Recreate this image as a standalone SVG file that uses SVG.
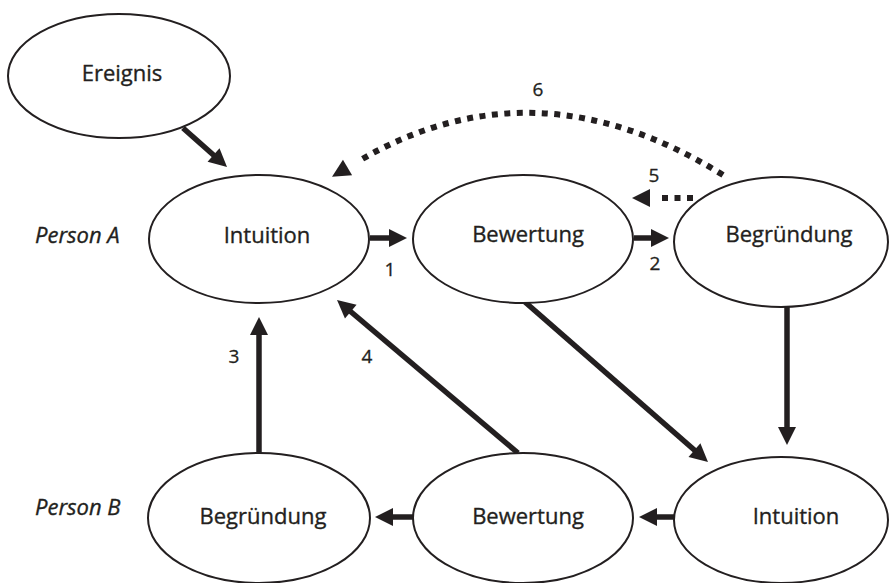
<svg xmlns="http://www.w3.org/2000/svg" width="889" height="583" viewBox="0 0 889 583">
<style>
.node ellipse{fill:#fff;stroke:#231f20;stroke-width:2}
.lbl{font-family:"Open Sans","Liberation Sans",sans-serif;font-size:22px;fill:#231f20;stroke:#231f20;stroke-width:0.35;text-anchor:middle}
.person{font-family:"Open Sans","Liberation Sans",sans-serif;font-size:22px;font-style:italic;fill:#231f20;stroke:#231f20;stroke-width:0.35}
.num{font-family:"Open Sans","Liberation Sans",sans-serif;font-size:19px;fill:#231f20;stroke:#231f20;stroke-width:0.3;text-anchor:middle}
.solid{stroke:#231f20;stroke-width:5.5;fill:none;marker-end:url(#head)}
.dash{stroke:#231f20;stroke-width:6;fill:none;stroke-dasharray:6 6.5;marker-end:url(#headGap)}
</style>
<defs>
<marker id="head" markerUnits="userSpaceOnUse" markerWidth="20" markerHeight="20" refX="1" refY="9" orient="auto" overflow="visible">
<path d="M0,0 L18,9 L0,18 z" fill="#231f20"/>
</marker>
<marker id="headGap" markerUnits="userSpaceOnUse" markerWidth="20" markerHeight="20" refX="-11" refY="9" orient="auto" overflow="visible">
<path d="M0,0 L18,9 L0,18 z" fill="#231f20"/>
</marker>
</defs>
<rect width="889" height="583" fill="#fff"/>
<g id="connectors">
<line class="solid" x1="183" y1="128" x2="214.3" y2="155.7"/>
<line class="solid" x1="370" y1="238" x2="390" y2="238"/>
<line class="solid" x1="634" y1="238" x2="652" y2="238"/>
<line class="dash" x1="693" y1="198" x2="661" y2="198"/>
<path class="dash" d="M 723 175 Q 534 57.5 357 162"/>
<line class="solid" x1="259" y1="453" x2="259" y2="334"/>
<line class="solid" x1="518" y1="453" x2="350" y2="311"/>
<line class="solid" x1="525" y1="302" x2="695.2" y2="450.8"/>
<line class="solid" x1="787" y1="307" x2="787" y2="428"/>
<line class="solid" x1="676" y1="517" x2="656" y2="517"/>
<line class="solid" x1="413" y1="517" x2="392" y2="517"/>
</g>
<g id="ereignis" class="node"><ellipse cx="119" cy="76" rx="111" ry="62"/><text class="lbl" x="122" y="81">Ereignis</text></g>
<g id="intuitionA" class="node"><ellipse cx="259" cy="239" rx="110" ry="64"/><text class="lbl" x="267" y="243">Intuition</text></g>
<g id="bewertungA" class="node"><ellipse cx="523" cy="239" rx="110" ry="64"/><text class="lbl" x="528" y="242">Bewertung</text></g>
<g id="begruendungA" class="node"><ellipse cx="781" cy="242" rx="107" ry="65"/><text class="lbl" x="789" y="242">Begründung</text></g>
<g id="begruendungB" class="node"><ellipse cx="259" cy="518" rx="111" ry="65"/><text class="lbl" x="263" y="524">Begründung</text></g>
<g id="bewertungB" class="node"><ellipse cx="523" cy="518" rx="110" ry="65"/><text class="lbl" x="528" y="524">Bewertung</text></g>
<g id="intuitionB" class="node"><ellipse cx="781" cy="520" rx="107" ry="63"/><text class="lbl" x="796" y="524">Intuition</text></g>
<g id="labels">
<text class="person" x="35" y="243">Person A</text>
<text class="person" x="35" y="515">Person B</text>
<text class="num" x="390" y="276">1</text>
<text class="num" x="655" y="270">2</text>
<text class="num" x="234" y="363">3</text>
<text class="num" x="367" y="363">4</text>
<text class="num" x="654" y="182">5</text>
<text class="num" x="538" y="96">6</text>
</g>
</svg>
